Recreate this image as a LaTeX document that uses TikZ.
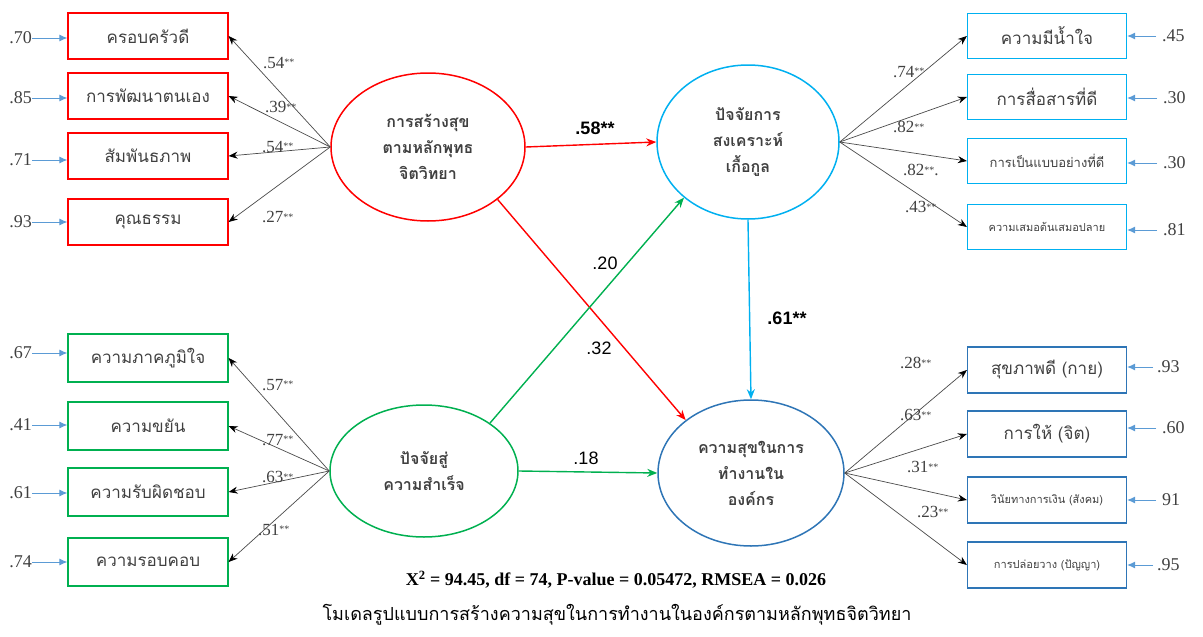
\documentclass[tikz,border=0pt]{standalone}
\usepackage{fontspec}
\setmainfont{Liberation Serif}
\setsansfont{Liberation Sans}
\newfontfamily\thaifont[Script=Thai]{Loma}
\usetikzlibrary{arrows.meta,shapes.geometric}
\definecolor{hsred}{HTML}{FF0000}
\definecolor{cfcyan}{HTML}{00B0F0}
\definecolor{sfgreen}{HTML}{00B050}
\definecolor{whblue}{HTML}{2E75B6}
\definecolor{errblue}{HTML}{5B9BD5}
\definecolor{loadgray}{HTML}{4A4A4A}
\definecolor{ink}{HTML}{404040}
\newcommand{\sigmark}{{\fontsize{10}{10}\selectfont\raisebox{2.5pt}{**}}}

\begin{document}
\begin{tikzpicture}[x=1pt,y=-1pt,
  obs/.style={draw,line width=1.2pt,minimum width=160pt,minimum height=46pt,
    inner sep=0pt,text=ink,font=\thaifont\fontsize{17}{17}\selectfont},
  lat/.style={ellipse,draw,line width=1.5pt,inner sep=0pt,align=center,
    text=ink,font=\thaifont\bfseries\fontsize{16}{26}\selectfont},
  load/.style={-{Stealth[length=9pt,width=7pt,color=black]},loadgray,line width=0.7pt},
  err/.style={-{Latex[length=8pt,width=7pt]},errblue,line width=1pt},
  effect/.style={-{Stealth[length=10pt,width=8pt]},line width=1.4pt},
  ldlabel/.style={anchor=west,inner sep=0pt,text=ink,font=\fontsize{17}{17}\selectfont},
  errlabel/.style={inner sep=0pt,text=ink,font=\fontsize{18}{18}\selectfont},
  coef/.style={inner sep=0pt,font=\sffamily\fontsize{18}{18}\selectfont}
]
\useasboundingbox (0,0) rectangle (1203,637);

% ==================== latent variables ====================
\node[lat,draw=hsred,minimum width=194pt,minimum height=148pt] (hs_lat) at (428,147)
  {การสร้างสุข\\ตามหลักพุทธ\\จิตวิทยา};
\node[lat,draw=cfcyan,minimum width=182pt,minimum height=154pt] (cf_lat) at (748,142)
  {ปัจจัยการ\\สงเคราะห์\\เกื้อกูล};
\node[lat,draw=sfgreen,minimum width=188pt,minimum height=132pt] (sf_lat) at (424,471)
  {ปัจจัยสู่\\ความสำเร็จ};
\node[lat,draw=whblue,minimum width=186pt,minimum height=146pt] (wh_lat) at (751,473)
  {ความสุขในการ\\ทำงานใน\\องค์กร};

% ==================== structural paths ====================
\draw[effect,hsred] (hs_lat.east) -- (cf_lat.west);
\draw[effect,hsred] (hs_lat.-37) -- (wh_lat.141);
\draw[effect,sfgreen] (sf_lat.36) -- (cf_lat.221);
\draw[effect,sfgreen] (sf_lat.east) -- (wh_lat.west);
\draw[effect,cfcyan] (cf_lat.south) -- (wh_lat.north);

\node[coef,font=\sffamily\bfseries\fontsize{18}{18}\selectfont] (c_hs_cf) at (595,128) {.58**};
\node[coef] (c_sf_cf) at (605,263) {.20};
\node[coef] (c_hs_wh) at (599,348) {.32};
\node[coef,font=\sffamily\bfseries\fontsize{18}{18}\selectfont] (c_cf_wh) at (787,318) {.61**};
\node[coef] (c_sf_wh) at (586,458) {.18};

% ==================== indicators: left, red ====================
\node[obs,draw=hsred] (red1) at (148,36) {ครอบครัวดี};
\node[obs,draw=hsred] (red2) at (148,96) {การพัฒนาตนเอง};
\node[obs,draw=hsred] (red3) at (148,156) {สัมพันธภาพ};
\node[obs,draw=hsred] (red4) at (148,222) {คุณธรรม};

\draw[load] (hs_lat.west) -- (red1.east);
\draw[load] (hs_lat.west) -- (red2.east);
\draw[load] (hs_lat.west) -- (red3.east);
\draw[load] (hs_lat.west) -- (red4.east);

\node[ldlabel] (l_red1) at (263,63) {.54\sigmark};
\node[ldlabel] (l_red2) at (265,107) {.39\sigmark};
\node[ldlabel] (l_red3) at (262,147) {.54\sigmark};
\node[ldlabel] (l_red4) at (262,217) {.27\sigmark};

\node[errlabel,anchor=east] (e_red1) at (32,38) {.70};
\node[errlabel,anchor=east] (e_red2) at (32,98) {.85};
\node[errlabel,anchor=east] (e_red3) at (32,160) {.71};
\node[errlabel,anchor=east] (e_red4) at (32,222) {.93};
\draw[err] (e_red1.east) -- (e_red1.east -| red1.west);
\draw[err] (e_red2.east) -- (e_red2.east -| red2.west);
\draw[err] (e_red3.east) -- (e_red3.east -| red3.west);
\draw[err] (e_red4.east) -- (e_red4.east -| red4.west);

% ==================== indicators: left, green ====================
\node[obs,draw=sfgreen,minimum height=48pt] (grn1) at (148,358) {ความภาคภูมิใจ};
\node[obs,draw=sfgreen,minimum height=48pt] (grn2) at (148,426) {ความขยัน};
\node[obs,draw=sfgreen,minimum height=48pt] (grn3) at (148,492) {ความรับผิดชอบ};
\node[obs,draw=sfgreen,minimum height=48pt] (grn4) at (148,562) {ความรอบคอบ};

\draw[load] (sf_lat.west) -- (grn1.east);
\draw[load] (sf_lat.west) -- (grn2.east);
\draw[load] (sf_lat.west) -- (grn3.east);
\draw[load] (sf_lat.west) -- (grn4.east);

\node[ldlabel] (l_grn1) at (262,385) {.57\sigmark};
\node[ldlabel] (l_grn2) at (262,440) {.77\sigmark};
\node[ldlabel] (l_grn3) at (262,477) {.63\sigmark};
\node[ldlabel] (l_grn4) at (258,530) {.51\sigmark};

\node[errlabel,anchor=east] (e_grn1) at (32,353) {.67};
\node[errlabel,anchor=east] (e_grn2) at (32,425) {.41};
\node[errlabel,anchor=east] (e_grn3) at (32,493) {.61};
\node[errlabel,anchor=east] (e_grn4) at (32,562) {.74};
\draw[err] (e_grn1.east) -- (e_grn1.east -| grn1.west);
\draw[err] (e_grn2.east) -- (e_grn2.east -| grn2.west);
\draw[err] (e_grn3.east) -- (e_grn3.east -| grn3.west);
\draw[err] (e_grn4.east) -- (e_grn4.east -| grn4.west);

% ==================== indicators: right, cyan ====================
\node[obs,draw=cfcyan,minimum width=159pt,minimum height=45pt] (cyn1) at (1047,36) {ความมีน้ำใจ};
\node[obs,draw=cfcyan,minimum width=159pt,minimum height=45pt] (cyn2) at (1047,97) {การสื่อสารที่ดี};
\node[obs,draw=cfcyan,minimum width=159pt,minimum height=45pt,font=\thaifont\fontsize{13}{13}\selectfont] (cyn3) at (1047,161) {การเป็นแบบอย่างที่ดี};
\node[obs,draw=cfcyan,minimum width=159pt,minimum height=45pt,font=\thaifont\fontsize{11}{11}\selectfont] (cyn4) at (1047,227) {ความเสมอต้นเสมอปลาย};

\draw[load] (cf_lat.east) -- (cyn1.west);
\draw[load] (cf_lat.east) -- (cyn2.west);
\draw[load] (cf_lat.east) -- (cyn3.west);
\draw[load] (cf_lat.east) -- (cyn4.west);

\node[ldlabel] (l_cyn1) at (893,72) {.74\sigmark};
\node[ldlabel] (l_cyn2) at (893,127) {.82\sigmark};
\node[ldlabel] (l_cyn3) at (903,170) {.82\sigmark.};
\node[ldlabel] (l_cyn4) at (905,207) {.43\sigmark};

\node[errlabel,anchor=west] (e_cyn1) at (1162,36) {.45};
\node[errlabel,anchor=west] (e_cyn2) at (1163,98) {.30};
\node[errlabel,anchor=west] (e_cyn3) at (1163,163) {.30};
\node[errlabel,anchor=west] (e_cyn4) at (1163,230) {.81};
\draw[err,shorten <=6pt] (e_cyn1.west) -- (e_cyn1.west -| cyn1.east);
\draw[err,shorten <=6pt] (e_cyn2.west) -- (e_cyn2.west -| cyn2.east);
\draw[err,shorten <=6pt] (e_cyn3.west) -- (e_cyn3.west -| cyn3.east);
\draw[err,shorten <=6pt] (e_cyn4.west) -- (e_cyn4.west -| cyn4.east);

% ==================== indicators: right, blue ====================
\node[obs,draw=whblue,minimum width=159pt] (blu1) at (1047,370) {สุขภาพดี (กาย)};
\node[obs,draw=whblue,minimum width=159pt] (blu2) at (1047,434) {การให้ (จิต)};
\node[obs,draw=whblue,minimum width=159pt,font=\thaifont\fontsize{11}{11}\selectfont] (blu3) at (1047,500) {วินัยทางการเงิน (สังคม)};
\node[obs,draw=whblue,minimum width=159pt,font=\thaifont\fontsize{11}{11}\selectfont] (blu4) at (1047,565) {การปล่อยวาง (ปัญญา)};

\draw[load] (wh_lat.east) -- (blu1.west);
\draw[load] (wh_lat.east) -- (blu2.west);
\draw[load] (wh_lat.east) -- (blu3.west);
\draw[load] (wh_lat.east) -- (blu4.west);

\node[ldlabel] (l_blu1) at (900,363) {.28\sigmark};
\node[ldlabel] (l_blu2) at (900,415) {.63\sigmark};
\node[ldlabel] (l_blu3) at (907,467) {.31\sigmark};
\node[ldlabel] (l_blu4) at (917,512) {.23\sigmark};

\node[errlabel,anchor=west] (e_blu1) at (1157,367) {.93};
\node[errlabel,anchor=west] (e_blu2) at (1162,428) {.60};
\node[errlabel,anchor=west] (e_blu3) at (1162,500) {91};
\node[errlabel,anchor=west] (e_blu4) at (1157,565) {.95};
\draw[err,shorten <=4pt] (e_blu1.west) -- (e_blu1.west -| blu1.east);
\draw[err,shorten <=6pt] (e_blu2.west) -- (e_blu2.west -| blu2.east);
\draw[err,shorten <=6pt] (e_blu3.west) -- (e_blu3.west -| blu3.east);
\draw[err,shorten <=4pt] (e_blu4.west) -- (e_blu4.west -| blu4.east);

% ==================== fit and title ====================
\node[font=\bfseries\fontsize{18}{18}\selectfont] (fit_stats) at (616,580)
  {X\textsuperscript{2} = 94.45, df = 74, P-value = 0.05472, RMSEA = 0.026};
\node[font=\thaifont\fontsize{18}{18}\selectfont] (model_title) at (617,615)
  {โมเดลรูปแบบการสร้างความสุขในการทำงานในองค์กรตามหลักพุทธจิตวิทยา};

\end{tikzpicture}
\end{document}
